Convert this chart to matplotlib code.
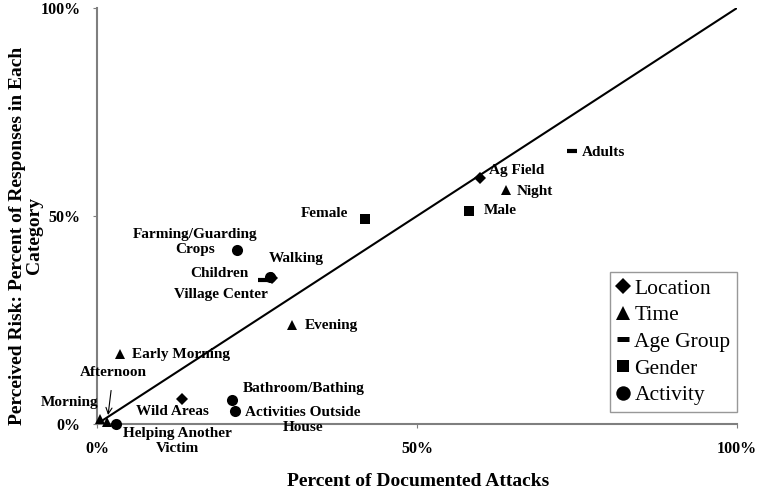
import matplotlib
matplotlib.use("Agg")
import matplotlib.pyplot as plt
from matplotlib.lines import Line2D

plt.rcParams['font.family'] = ['Liberation Serif', 'DejaVu Serif']

# percent of documented attacks (x) vs perceived risk (y)
location_names = ['Ag Field', 'Village Center', 'Wild Areas']
location_x = [59.8, 27.3, 13.3]
location_y = [59.1, 35.0, 6.0]

time_names = ['Night', 'Evening', 'Early Morning', 'Morning', 'Afternoon']
time_x = [63.9, 30.5, 3.6, 0.5, 1.6]
time_y = [56.3, 23.8, 16.8, 1.2, 0.5]

age_names = ['Adults', 'Children']
age_x = [74.2, 25.9]
age_y = [65.6, 34.6]

gender_names = ['Male', 'Female']
gender_x = [58.1, 41.9]
gender_y = [51.2, 49.3]

activity_names = ['Farming/Guarding\nCrops', 'Walking', 'Bathroom/Bathing',
                  'Activities Outside\nHouse', 'Helping Another\nVictim']
activity_x = [21.9, 27.0, 21.1, 21.6, 3.0]
activity_y = [41.8, 35.3, 5.8, 3.1, 0.0]

ticks = [0, 50, 100]
tick_labels = ['0%', '50%', '100%']

# label placement (pixel offsets from the point, horizontal alignment)
label_pos = {
    'Ag Field': (9, 8, 'left'),
    'Village Center': (-51, -16, 'center'),
    'Wild Areas': (-10, -12, 'center'),
    'Night': (11, -2, 'left'),
    'Evening': (13, -1, 'left'),
    'Early Morning': (12, 0, 'left'),
    'Morning': (-2, 17, 'right'),
    'Adults': (10, -1, 'left'),
    'Children': (-14, 7, 'right'),
    'Male': (15, 1, 'left'),
    'Female': (-17, 5, 'right'),
    'Farming/Guarding\nCrops': (-42, 8, 'center'),
    'Walking': (-1, 19, 'left'),
    'Bathroom/Bathing': (11, 11, 'left'),
    'Activities Outside\nHouse': (68, -9, 'center'),
    'Helping Another\nVictim': (61, -17, 'center'),
}

fig = plt.figure(figsize=(7.65, 4.92), dpi=100)
ax = fig.add_axes([97/765, 68/492, 640/765, 416/492])

ax.plot([0, 100], [0, 100], color='black', lw=1.5, zorder=1)

groups = [
    ('Location', 'D', 6.5, location_names, location_x, location_y),
    ('Time', '^', 7.5, time_names, time_x, time_y),
    ('Age Group', '_', 7, age_names, age_x, age_y),
    ('Gender', 's', 7, gender_names, gender_x, gender_y),
    ('Activity', 'o', 8, activity_names, activity_x, activity_y),
]

handles = []
for label, m, ms, names, xs, ys in groups:
    mew = 3 if m == '_' else 0
    ax.plot(xs, ys, linestyle='none', marker=m, ms=ms, color='black',
            mew=mew, clip_on=False, zorder=3)
    handles.append(Line2D([], [], linestyle='none', marker=m, color='black',
                          ms=ms * 1.3, mew=mew * 1.2, label=label))
    for n, x, y in zip(names, xs, ys):
        if n == 'Afternoon':
            ax.annotate(n, (x, y), xytext=(6, 49), textcoords='offset pixels',
                        ha='center', va='center', fontsize=11, fontweight='bold',
                        arrowprops=dict(arrowstyle='->', color='black', lw=0.8,
                                        shrinkA=6, shrinkB=5))
            continue
        dx, dy, ha = label_pos[n]
        ax.annotate(n, (x, y), xytext=(dx, dy), textcoords='offset pixels',
                    ha=ha, va='center', multialignment='center',
                    fontsize=11, fontweight='bold')

ax.set_xlim(0, 100)
ax.set_ylim(0, 100)
ax.set_xticks(ticks)
ax.set_xticklabels(tick_labels)
ax.set_yticks(ticks)
ax.set_yticklabels(tick_labels)
for s in ['top', 'right']:
    ax.spines[s].set_visible(False)
for s in ['left', 'bottom']:
    ax.spines[s].set_color('#7f7f7f')
    ax.spines[s].set_linewidth(1.5)
ax.tick_params(axis='both', length=3, color='#7f7f7f', labelsize=11.5)
ax.tick_params(axis='x', pad=9)
ax.tick_params(axis='y', pad=9)
for t in ax.get_xticklabels() + ax.get_yticklabels():
    t.set_fontweight('bold')

fig.text(418/765, 1 - 482/492, 'Percent of Documented Attacks', ha='center',
         va='center', fontsize=14, fontweight='bold')
fig.text(26/765, 1 - 236/492, 'Perceived Risk: Percent of Responses in Each\nCategory',
         ha='center', va='center', rotation=90, multialignment='center',
         fontsize=14, fontweight='bold', linespacing=1.05)

leg = ax.legend(handles=handles, loc='lower right', bbox_to_anchor=(1.0, 0.03),
                fontsize=15.5, frameon=True, fancybox=False, handlelength=0.6,
                handletextpad=0.25, labelspacing=0.3, borderpad=0.3,
                borderaxespad=0)
leg.get_frame().set_edgecolor('#7f7f7f')
leg.get_frame().set_linewidth(1.0)

fig.savefig('out.png', dpi=100)
